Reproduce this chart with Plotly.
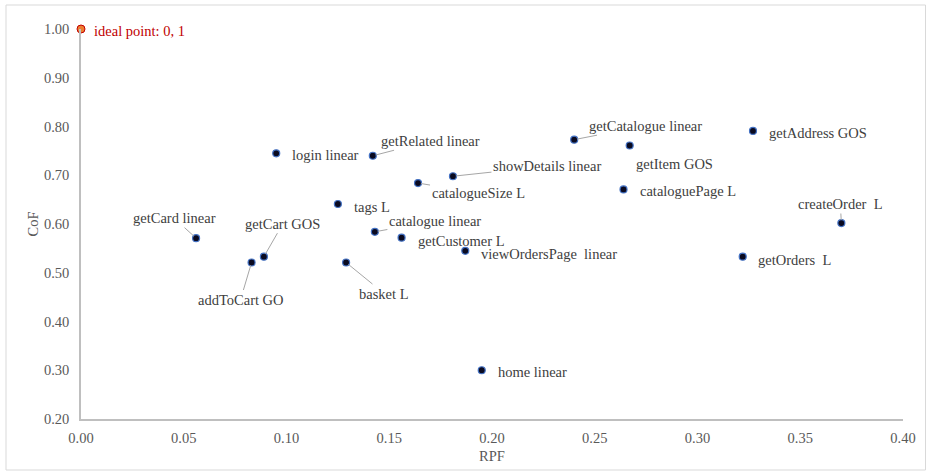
import plotly.graph_objects as go

# Per-operation scaling results: RPF on x, CoF on y
operations = [
    "getCard linear", "addToCart GO", "getCart GOS", "login linear", "tags L",
    "catalogue linear", "basket L", "getRelated linear", "showDetails linear",
    "catalogueSize L", "getCustomer L", "viewOrdersPage\u00a0 linear",
    "getCatalogue linear", "getItem GOS", "cataloguePage L", "getAddress GOS",
    "createOrder\u00a0 L", "getOrders\u00a0 L", "home linear",
]
rpf = [0.056, 0.083, 0.089, 0.095, 0.125, 0.143, 0.129, 0.142, 0.181,
       0.164, 0.156, 0.187, 0.240, 0.267, 0.264, 0.327, 0.370, 0.322, 0.195]
cof = [0.571, 0.521, 0.533, 0.745, 0.641, 0.584, 0.521, 0.740, 0.698,
       0.684, 0.572, 0.545, 0.773, 0.761, 0.671, 0.791, 0.602, 0.533, 0.300]

ideal_label = "ideal point: 0, 1"
ideal_rpf = [0.0]
ideal_cof = [1.0]

x_ticks = [0.00, 0.05, 0.10, 0.15, 0.20, 0.25, 0.30, 0.35, 0.40]
y_ticks = [0.20, 0.30, 0.40, 0.50, 0.60, 0.70, 0.80, 0.90, 1.00]

# Label placement: pixel offset of the label from its point, and whether a
# leader line connects them ("left" = plain label starting right of the dot)
placement = {
    "getCard linear": (-22, -20, "leader"),
    "addToCart GO": (-11, 37, "leader"),
    "getCart GOS": (19, -33, "leader"),
    "login linear": (14, 2, "left"),
    "tags L": (14, 3, "left"),
    "catalogue linear": (60, -11, "leader"),
    "basket L": (38, 31, "leader"),
    "getRelated linear": (58, -15, "leader"),
    "showDetails linear": (94, -10, "leader"),
    "catalogueSize L": (60, 10, "leader"),
    "getCustomer L": (14, 3, "left"),
    "viewOrdersPage\u00a0 linear": (14, 3, "left"),
    "getCatalogue linear": (71, -14, "leader"),
    "getItem GOS": (45, 18, "center"),
    "cataloguePage L": (14, 2, "left"),
    "getAddress GOS": (14, 2, "left"),
    "createOrder\u00a0 L": (-1, -19, "leader"),
    "getOrders\u00a0 L": (13, 3, "left"),
    "home linear": (14, 2, "left"),
}

W, H = 927, 471
ML, MR, MT, MB = 81, 24, 29, 52
FONT = "Liberation Serif, Times New Roman, serif"
LABEL_COLOR = "#404040"
AXIS_TEXT = "#595959"

fig = go.Figure()

fig.add_trace(go.Scatter(
    x=rpf, y=cof, mode="markers", cliponaxis=False,
    marker=dict(size=7, color="#0a0a20", line=dict(color="#4472c4", width=1.2)),
    hoverinfo="text", text=operations, showlegend=False,
))
fig.add_trace(go.Scatter(
    x=ideal_rpf, y=ideal_cof, mode="markers", cliponaxis=False,
    marker=dict(size=8, color="#ed7d31", line=dict(color="#c00000", width=1)),
    hoverinfo="text", text=[ideal_label], showlegend=False,
))

annotations = []
for name, x, y in zip(operations, rpf, cof):
    dx, dy, kind = placement[name]
    common = dict(x=x, y=y, text=name, font=dict(family=FONT, size=14.5, color=LABEL_COLOR))
    if kind == "leader":
        annotations.append(dict(**common, showarrow=True, arrowhead=0, arrowwidth=1,
                                arrowcolor="#a6a6a6", ax=dx, ay=dy, standoff=3,
                                borderpad=1))
    elif kind == "center":
        annotations.append(dict(**common, showarrow=False, xanchor="center",
                                yanchor="middle", xshift=dx, yshift=-dy))
    else:
        annotations.append(dict(**common, showarrow=False, xanchor="left",
                                yanchor="middle", xshift=dx, yshift=-dy))

annotations.append(dict(
    x=ideal_rpf[0], y=ideal_cof[0], text=ideal_label, showarrow=False,
    xanchor="left", yanchor="middle", xshift=11, yshift=-2,
    font=dict(family=FONT, size=14.5, color="#c00000"),
))

# Light frame around the whole chart area
pw, ph = W - ML - MR, H - MT - MB
def px_to_paper_x(px):
    return (px - ML) / pw
def px_to_paper_y(py):
    return 1 - (py - MT) / ph

fig.update_layout(
    width=W, height=H,
    margin=dict(l=ML, r=MR, t=MT, b=MB, autoexpand=False),
    paper_bgcolor="white", plot_bgcolor="white",
    font=dict(family=FONT, size=14.5, color=AXIS_TEXT),
    annotations=annotations,
    shapes=[dict(
        type="rect", xref="paper", yref="paper", layer="below",
        x0=px_to_paper_x(6), x1=px_to_paper_x(925.5),
        y0=px_to_paper_y(470), y1=px_to_paper_y(5),
        line=dict(color="#d9d9d9", width=1), fillcolor="rgba(0,0,0,0)",
    )],
    xaxis=dict(
        range=[0, 0.40], tickvals=x_ticks, tickformat=".2f",
        showgrid=False, zeroline=False, automargin=False,
        showline=True, linecolor="#bfbfbf", linewidth=1.5,
        ticks="", ticklabelstandoff=5,
        title=dict(text="RPF", standoff=6, font=dict(size=14.5, color=AXIS_TEXT)),
    ),
    yaxis=dict(
        range=[0.20, 1.00], tickvals=y_ticks, tickformat=".2f",
        showgrid=False, zeroline=False, automargin=False,
        showline=True, linecolor="#bfbfbf", linewidth=1.5,
        ticks="", ticklabelstandoff=7,
        title=dict(text="CoF", standoff=2, font=dict(size=14.5, color=AXIS_TEXT)),
    ),
)

fig.write_html("out.html", config={"displayModeBar": False})
